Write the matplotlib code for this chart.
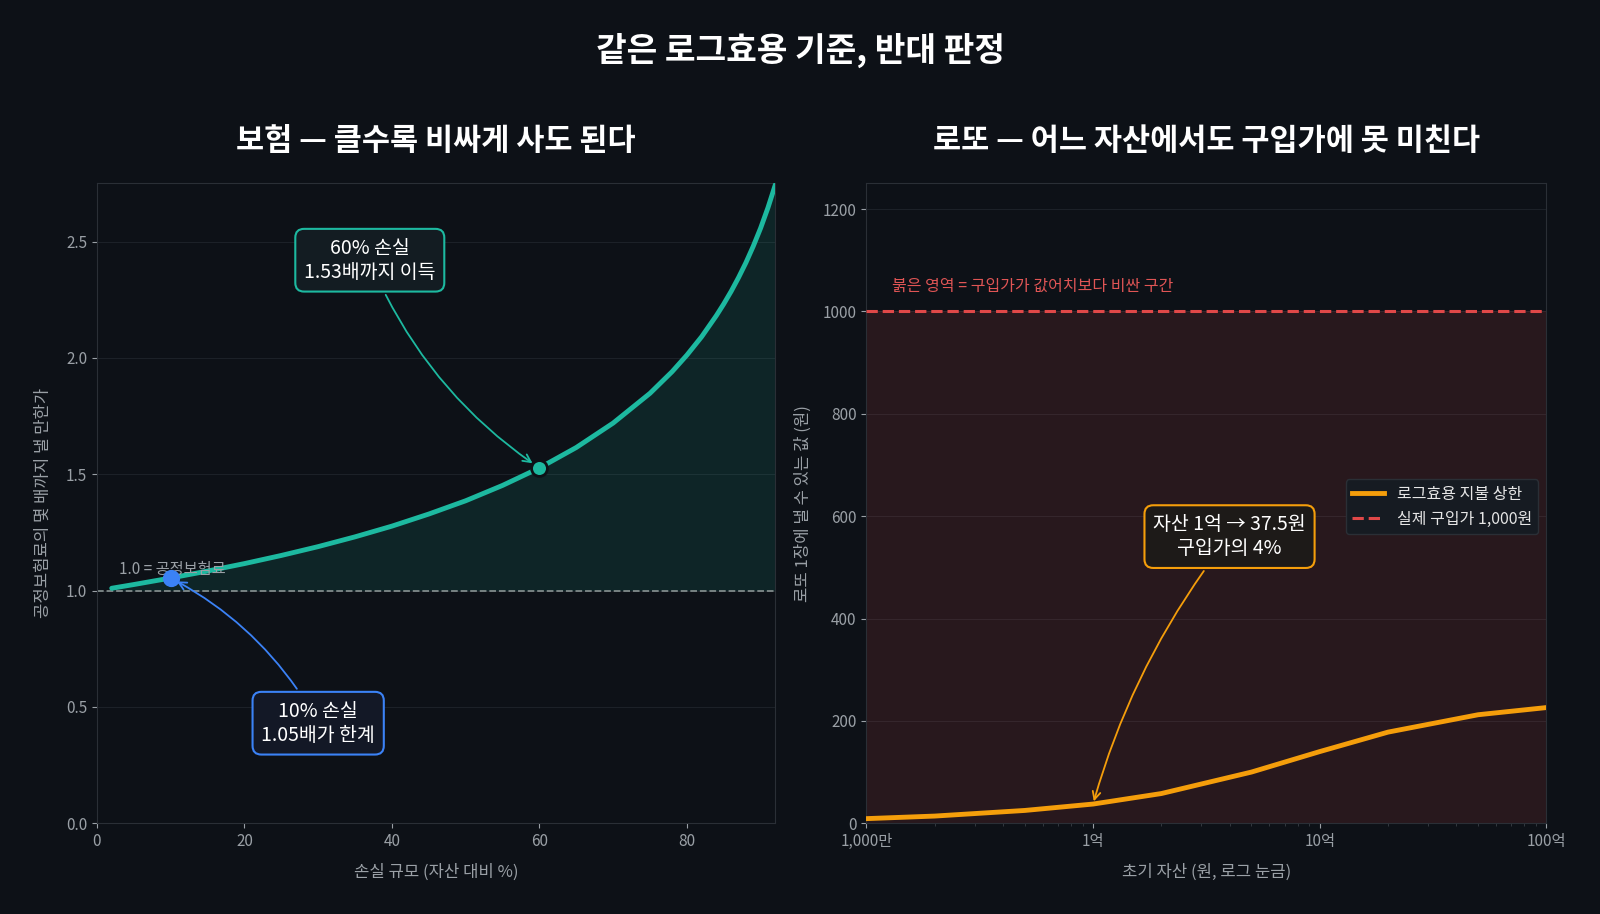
import matplotlib
matplotlib.use("Agg")
import matplotlib.pyplot as plt
import numpy as np
from matplotlib.ticker import NullFormatter

plt.rcParams['font.family'] = ['Noto Sans CJK KR', 'DejaVu Sans']

# Left: insurance
loss_pct = [2, 5, 10, 15, 20, 25, 30, 35, 40, 45, 50, 55, 60, 65, 70, 75, 78, 80, 82, 84, 85, 86, 87, 88, 89, 90, 91, 92]
premium_mult = [1.010, 1.026, 1.054, 1.084, 1.116, 1.151, 1.189, 1.231, 1.277, 1.329, 1.386,
                1.452, 1.527, 1.615, 1.720, 1.848, 1.941, 2.012, 2.091, 2.182, 2.232, 2.286,
                2.345, 2.409, 2.480, 2.558, 2.646, 2.745]
# Right: lotto
wealth = [1e7, 2e7, 5e7, 1e8, 2e8, 5e8, 1e9, 2e9, 5e9, 1e10]
lotto_value = [9, 14, 25, 37.5, 58, 100, 140, 178, 212, 226]
lotto_price = 1000
wealth_ticks = [1e7, 1e8, 1e9, 1e10]
wealth_labels = ['1,000만', '1억', '10억', '100억']

BG = '#0d1117'
TXT = '#e6e6e6'
MUTED = '#9aa0a6'
TEAL = '#1db9a0'
BLUE = '#3b82f6'
ORANGE = '#f59e0b'
RED = '#e04848'

fig = plt.figure(figsize=(16, 9.14), dpi=100, facecolor=BG)
fig.text(0.5, 0.945, '같은 로그효용 기준, 반대 판정', ha='center', va='center',
         color='white', fontsize=24, fontweight='bold')

axL = fig.add_axes([0.0606, 0.0993, 0.424, 0.70])
axR = fig.add_axes([0.5415, 0.0993, 0.425, 0.70])
for ax in (axL, axR):
    ax.set_facecolor(BG)
    for s in ax.spines.values():
        s.set_color('#2a2f36')
    ax.tick_params(colors=MUTED, labelsize=11)
    ax.grid(True, axis='y', color='#1c2128', lw=0.8)
    ax.set_axisbelow(True)

# Left
x = np.array(loss_pct); y = np.array(premium_mult)
axL.fill_between(x, 1.0, y, color=TEAL, alpha=0.12, lw=0)
axL.plot(x, y, color=TEAL, lw=3.5, solid_capstyle='round', zorder=3)
axL.axhline(1.0, color='#7f8a8a', ls='--', lw=1.3, zorder=2)
axL.text(3, 1.07, '1.0 = 공정보험료', color=MUTED, fontsize=11)
axL.set_xlim(0, 92); axL.set_ylim(0, 2.75)
axL.set_xticks([0, 20, 40, 60, 80])
axL.set_yticks([0, 0.5, 1.0, 1.5, 2.0, 2.5])
axL.set_title('보험 — 클수록 비싸게 사도 된다', color='white', fontsize=22, fontweight='bold', pad=24)
axL.set_xlabel('손실 규모 (자산 대비 %)', color=MUTED, fontsize=12, labelpad=10)
axL.set_ylabel('공정보험료의 몇 배까지 낼 만한가', color=MUTED, fontsize=12, labelpad=10)
i10 = loss_pct.index(10); i60 = loss_pct.index(60)
axL.scatter([10], [premium_mult[i10]], s=130, color=BLUE, zorder=5, edgecolor=BLUE)
axL.scatter([60], [premium_mult[i60]], s=130, color=TEAL, zorder=5, edgecolor=BG, linewidth=2)
axL.annotate('60% 손실\n1.53배까지 이득', xy=(60, premium_mult[i60]), xytext=(37, 2.42),
             ha='center', va='center', color='white', fontsize=14,
             bbox=dict(boxstyle='round,pad=0.45', fc='#131c22', ec=TEAL, lw=1.5),
             arrowprops=dict(arrowstyle='->', color=TEAL, lw=1.3, connectionstyle='arc3,rad=0.15',
                             shrinkB=6))
axL.annotate('10% 손실\n1.05배가 한계', xy=(10, premium_mult[i10]), xytext=(30, 0.43),
             ha='center', va='center', color='white', fontsize=14,
             bbox=dict(boxstyle='round,pad=0.45', fc='#131826', ec=BLUE, lw=1.5),
             arrowprops=dict(arrowstyle='->', color=BLUE, lw=1.3, connectionstyle='arc3,rad=0.15',
                             shrinkB=5))

# Right
axR.set_xscale('log')
axR.fill_between([1e7, 1e10], 0, lotto_price, color=RED, alpha=0.13, lw=0)
axR.axhline(lotto_price, color=RED, ls='--', lw=2.2, label='실제 구입가 1,000원', zorder=3)
axR.plot(wealth, lotto_value, color=ORANGE, lw=3.5, label='로그효용 지불 상한', zorder=4)
axR.set_xlim(1e7, 1e10); axR.set_ylim(0, 1250)
axR.set_xticks(wealth_ticks); axR.set_xticklabels(wealth_labels)
axR.xaxis.set_minor_formatter(NullFormatter())
axR.tick_params(which='minor', colors='#3a3f46')
axR.set_yticks([0, 200, 400, 600, 800, 1000, 1200])
axR.text(1.3e7, 1040, '붉은 영역 = 구입가가 값어치보다 비싼 구간', color='#e05555', fontsize=11.5)
axR.set_title('로또 — 어느 자산에서도 구입가에 못 미친다', color='white', fontsize=22, fontweight='bold', pad=24)
axR.set_xlabel('초기 자산 (원, 로그 눈금)', color=MUTED, fontsize=12, labelpad=10)
axR.set_ylabel('로또 1장에 낼 수 있는 값 (원)', color=MUTED, fontsize=12, labelpad=8)
axR.annotate('자산 1억 → 37.5원\n구입가의 4%', xy=(1e8, 37.5), xytext=(4e8, 560),
             ha='center', va='center', color='white', fontsize=14,
             bbox=dict(boxstyle='round,pad=0.45', fc='#1d1a18', ec=ORANGE, lw=1.5),
             arrowprops=dict(arrowstyle='->', color=ORANGE, lw=1.3, connectionstyle='arc3,rad=0.1'))
h, l = axR.get_legend_handles_labels()
leg = axR.legend(h[::-1], l[::-1], loc='upper right', bbox_to_anchor=(1.0, 0.55), fontsize=11.5,
                 facecolor='#161b22', edgecolor='#2a2f36', labelcolor=TXT, framealpha=1)

fig.savefig('out.png', dpi=100, facecolor=BG)
